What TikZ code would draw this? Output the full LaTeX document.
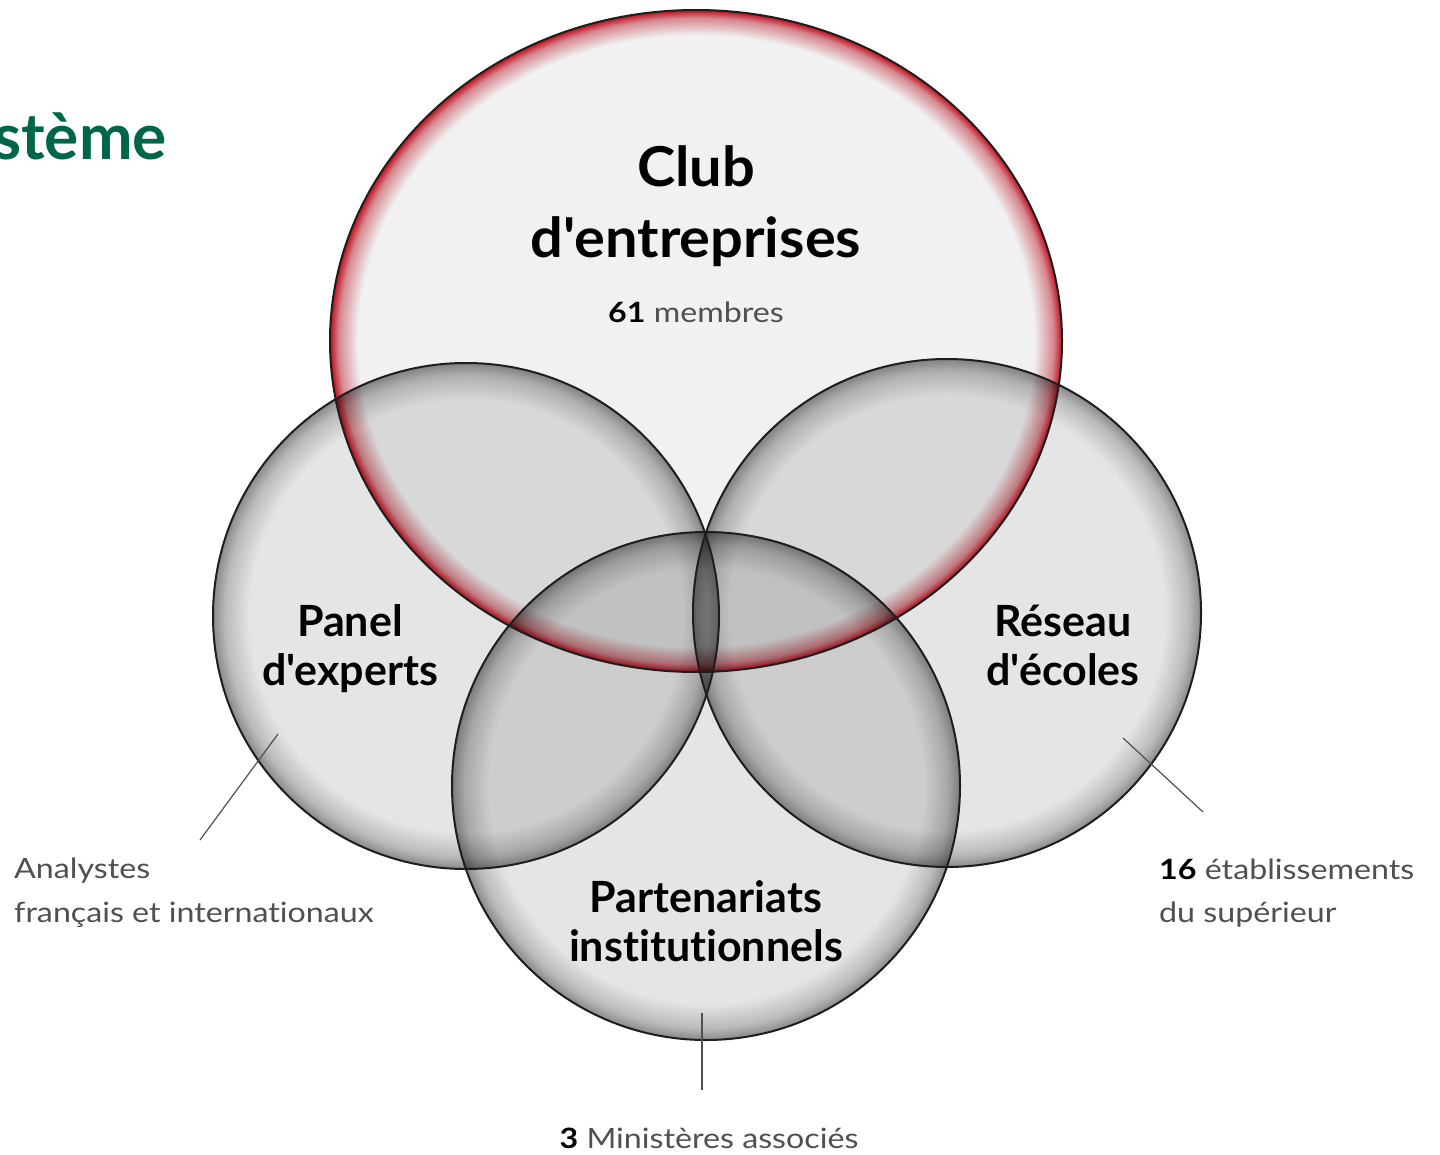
\documentclass[tikz,border=0pt]{standalone}
\usepackage{fontspec}
\setmainfont{Lato}[Ligatures={TeXOff,CommonOff}]
\newfontfamily\labfont{Lato}[FakeStretch=1.15, Ligatures={TeXOff,CommonOff}]
\newfontfamily\bigfont{Lato}[FakeStretch=1.05, Ligatures={TeXOff,CommonOff}]
\definecolor{g0}{HTML}{E5E5E5}
\definecolor{g1}{HTML}{BABABA}
\definecolor{g2}{HTML}{8A8A8A}
\definecolor{c0}{HTML}{F1F1F1}
\definecolor{c1}{HTML}{D68890}
\definecolor{c2}{HTML}{C0101E}
\definecolor{titlegreen}{HTML}{00664A}
\definecolor{labelgray}{HTML}{505050}
\definecolor{rimline}{HTML}{1E1E1E}
\pgfdeclareradialshading{grayglow}{\pgfpoint{0bp}{0bp}}{color(0bp)=(g0); color(21.4bp)=(g0); color(23.8bp)=(g1); color(25bp)=(g2); color(50bp)=(g2)}
\pgfdeclareradialshading{redglow}{\pgfpoint{0bp}{0bp}}{color(0bp)=(c0); color(23.1bp)=(c0); color(24.4bp)=(c1); color(25bp)=(c2); color(50bp)=(c2)}
\tikzset{
  rim/.style={draw=rimline, line width=2pt},
  bigtitle/.style={anchor=base, text=black, font=\bigfont\bfseries\fontsize{55}{66}\selectfont},
  settitle/.style={anchor=base, text=black, font=\bfseries\fontsize{43}{52}\selectfont},
  label/.style={text=labelgray, font=\labfont\fontsize{28}{34}\selectfont},
  leader/.style={draw=labelgray, line width=1.2pt},
}
\begin{document}
\begin{tikzpicture}[x=1pt,y=-1pt]
\useasboundingbox (0,0) rectangle (1440,1155);
\fill[white] (0,0) rectangle (1440,1155);
\node[anchor=base east, inner sep=0pt, text=titlegreen, font=\bfseries\fontsize{64}{64}\selectfont] (title) at (167,160) {stème};

\coordinate (cClub) at (696,341);
\coordinate (cPanel) at (466,616);
\coordinate (cReseau) at (947,613);
\coordinate (cPart) at (706,786);

\begin{scope}[blend mode=multiply]
  \shade[shading=redglow] (cClub) ellipse [x radius=366, y radius=331];
  \shade[shading=grayglow] (cPanel) circle [radius=253];
  \shade[shading=grayglow] (cReseau) circle [radius=254];
  \shade[shading=grayglow] (cPart) circle [radius=254];
\end{scope}
\draw[rim] (cClub) ellipse [x radius=366, y radius=331];
\draw[rim] (cPanel) circle [radius=253];
\draw[rim] (cReseau) circle [radius=254];
\draw[rim] (cPart) circle [radius=254];

\node[bigtitle] (club1) at (696,187) {Club};
\node[bigtitle] (club2) at (696,258) {d'entreprises};
\node[anchor=base, label] (club3) at (696,323) {\textcolor{black}{\textbf{61}} membres};

\node[settitle] (panel1) at (350,636) {Panel};
\node[settitle] (panel2) at (350,685) {d'experts};
\node[settitle] (res1) at (1063,636) {Réseau};
\node[settitle] (res2) at (1063,685) {d'écoles};
\node[settitle] (part1) at (706,912) {Partenariats};
\node[settitle] (part2) at (706,961) {institutionnels};

\coordinate (lA1) at (278,734);
\coordinate (lA2) at (200,840);
\coordinate (lB1) at (1123,738);
\coordinate (lB2) at (1203,812);
\coordinate (lC1) at (702,1013);
\coordinate (lC2) at (702,1090);
\draw[leader] (lA1) -- (lA2);
\draw[leader] (lB1) -- (lB2);
\draw[leader] (lC1) -- (lC2);

\node[anchor=base west, inner sep=0pt, label] (an1) at (14,878) {Analystes};
\node[anchor=base west, inner sep=0pt, label] (an2) at (14,922) {français et internationaux};
\node[anchor=base west, inner sep=0pt, label] (et1) at (1159,879) {\textcolor{black}{\textbf{16}} établissements};
\node[anchor=base west, inner sep=0pt, label] (et2) at (1159,922) {du supérieur};
\node[anchor=base, inner sep=0pt, label] (min) at (709,1148) {\textcolor{black}{\textbf{3}} Ministères associés};
\end{tikzpicture}
\end{document}
